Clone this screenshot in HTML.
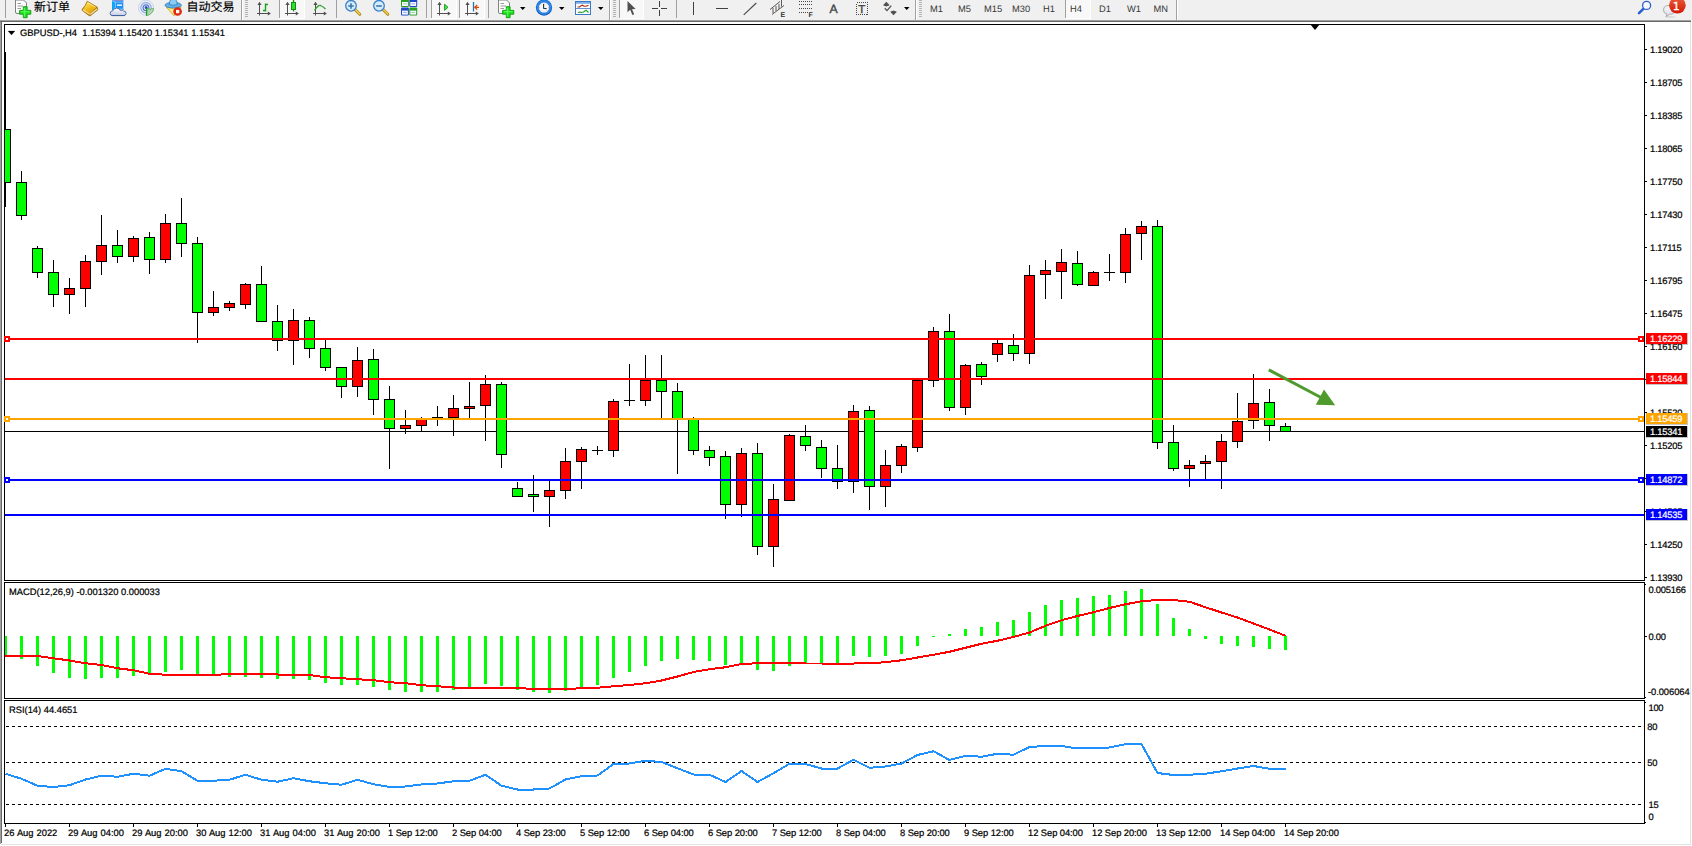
<!DOCTYPE html>
<html><head><meta charset="utf-8"><title>GBPUSD H4</title>
<style>
html,body{margin:0;padding:0;background:#fff;}
body{width:1692px;height:846px;position:relative;overflow:hidden;font-family:"Liberation Sans", sans-serif;}
#tb{position:absolute;left:0;top:0;width:1692px;height:20px;background:#f0f0f0;}
text{text-rendering:geometricPrecision;}
</style></head><body>
<div id="tb"><svg width="1692" height="20" viewBox="0 0 1692 20" shape-rendering="crispEdges" style="position:absolute;left:0;top:0;font-family:'Liberation Sans','Noto Sans CJK SC',sans-serif"><rect x="0" y="0" width="1692" height="20" fill="#f0f0f0"/><rect x="5" y="0" width="1" height="18" fill="#a0a0a0"/><g shape-rendering="auto"><path d="M15.5 -1V12Q15.5 13.5 17 13.5H26.5V3L23.5 0H15.5" fill="#fdfdfd" stroke="#808080" stroke-width="1"/><path d="M17.5 3.5H21M17.5 6H23M17.5 8.5H21" stroke="#9a9a9a" stroke-width="1"/><path d="M23.3 6.7h3.8v3.7h3.7v3.8h-3.7v3.5h-3.8v-3.5h-3.7v-3.8h3.7z" fill="#20e020" stroke="#0c9c0c" stroke-width="0.9"/><path d="M24.4 8v8.5M21 11.7h8.5" stroke="#60ff60" stroke-width="1.2" stroke-opacity="0.8"/></g><text x="34" y="10.5" font-size="12" fill="#000" stroke="#000" stroke-width="0.15">新订单</text><defs><linearGradient id="bk1" x1="0.2" y1="0" x2="0.8" y2="1"><stop offset="0" stop-color="#fce66c"/><stop offset="0.55" stop-color="#eeb818"/><stop offset="1" stop-color="#d89c10"/></linearGradient><linearGradient id="cl1" x1="0" y1="0" x2="0" y2="1"><stop offset="0" stop-color="#ffffff"/><stop offset="1" stop-color="#c4cce2"/></linearGradient></defs><g shape-rendering="auto"><path d="M87.3 1.2L97.2 7.1L97.9 9.8L90.4 15.7Q89.6 16 88.8 15.4L82.3 10.6Q81.8 9.8 82.4 9Q85.2 6.2 87.3 1.2Z" fill="#b07410" stroke="#a06808" stroke-width="0.7"/><path d="M90.6 14.9L97.3 9.6L97 8.2L90.2 13.4Z" fill="#ece4a8"/><path d="M87.6 1.8L96.7 7.2L90 13.6L82.9 9.4Q85.6 6.2 87.6 1.8Z" fill="url(#bk1)"/><path d="M83 9.9L89.8 14.3" stroke="#f8e084" stroke-width="1.3" fill="none"/><path d="M88.2 2.8L95.4 7.1" stroke="#fdf4b4" stroke-width="0.8" fill="none" stroke-opacity="0.8"/></g><g shape-rendering="auto"><path d="M112.1 0.6H123.3V10H112.1Z" fill="#2090f4"/><path d="M112.1 -1H123.3V0.9H112.1Z" fill="#7c84d4"/><path d="M112.1 0.6L115.6 2V10H112.1Z" fill="#0ca4fc"/><path d="M115.4 2V10" stroke="#9cdcff" stroke-width="0.7"/><path d="M112.3 0.8L115.5 2.1H123.2" stroke="#b4e4ff" stroke-width="0.6" fill="none"/><rect x="117" y="4.4" width="5" height="1.5" fill="#eaf6ff"/><path d="M116 8.6H123.3V10H116Z" fill="#6cc4ff"/><path d="M112.6 15.6Q109.9 15.6 110.1 13.1Q110.4 10.9 112.8 10.9Q113.7 8.1 116.7 8.1Q119.4 8.2 120.3 10.4Q122.3 9.4 123.7 11Q126.3 11.2 126.1 13.5Q125.9 15.6 123.5 15.6Z" fill="url(#cl1)" stroke="#5470a8" stroke-width="1"/><path d="M111.4 15.5H124.8" stroke="#3c5c9c" stroke-width="0.8"/></g><g shape-rendering="auto" fill="none"><circle cx="146" cy="7.8" r="7.6" stroke="#c4d4f0" stroke-width="1"/><circle cx="146" cy="7.8" r="5.2" stroke="#86a4e4" stroke-width="1.1"/><circle cx="146" cy="7.8" r="2.9" stroke="#5478d4" stroke-width="1.2"/><path d="M146.5 8V15.4A7.6 7.6 0 0 0 153.6 8.4A7 7 0 0 1 146.5 8" stroke="#68b068" stroke-width="0.9" fill="#a8d4a0" fill-opacity="0.75"/><circle cx="146.1" cy="7.4" r="1.5" fill="#2854c4"/><path d="M146.6 8V15.6" stroke="#18a018" stroke-width="1.3"/></g><g shape-rendering="auto"><path d="M166.2 7L174 15.8L181.2 7Z" fill="#f4dc50" stroke="#d0a820" stroke-width="0.8"/><path d="M168 7.6L174 14.4L176 12Z" fill="#fbf0a0"/><ellipse cx="173.2" cy="5.2" rx="8.2" ry="2.9" fill="#62b0e4" stroke="#2c7cbc" stroke-width="0.8"/><path d="M169.2 4.6Q169.6 -1.5 173.2 -1.5Q176.8 -1.5 177.3 4.6Q173.2 6 169.2 4.6Z" fill="#8cccf4" stroke="#2c7cbc" stroke-width="0.8"/><circle cx="177.6" cy="11.5" r="4.3" fill="#e02810"/><rect x="176" y="9.9" width="3.3" height="3.3" fill="#fff"/></g><text x="186.4" y="10.5" font-size="12" fill="#000" stroke="#000" stroke-width="0.15">自动交易</text><rect x="241" y="0" width="1" height="20" fill="#a0a0a0"/><rect x="242" y="0" width="1" height="20" fill="#fff"/><rect x="245" y="0" width="3" height="1" fill="#b4b4b4"/><rect x="245" y="2" width="3" height="1" fill="#b4b4b4"/><rect x="245" y="4" width="3" height="1" fill="#b4b4b4"/><rect x="245" y="6" width="3" height="1" fill="#b4b4b4"/><rect x="245" y="8" width="3" height="1" fill="#b4b4b4"/><rect x="245" y="10" width="3" height="1" fill="#b4b4b4"/><rect x="245" y="12" width="3" height="1" fill="#b4b4b4"/><rect x="245" y="14" width="3" height="1" fill="#b4b4b4"/><rect x="245" y="16" width="3" height="1" fill="#b4b4b4"/><g shape-rendering="auto"><path d="M259.5 3V15.5M257 13.5H269" fill="none" stroke="#505050" stroke-width="1"/><path d="M257.4 5L259.5 1.8L261.6 5ZM267.8 11.4L270.9 13.5L267.8 15.6Z" fill="#505050"/></g><path d="M265.5 3.5V11.5M265.5 4.5H268M263 10.5H265.5" stroke="#18a018" stroke-width="1.4" fill="none" shape-rendering="auto"/><rect x="279" y="0" width="1" height="18" fill="#a0a0a0"/><rect x="280" y="0" width="24" height="18" fill="#f8f8f8"/><rect x="304" y="0" width="1" height="19" fill="#fff"/><rect x="279" y="18" width="26" height="1" fill="#fff"/><g shape-rendering="auto"><path d="M287.5 3V15.5M285 13.5H297" fill="none" stroke="#505050" stroke-width="1"/><path d="M285.4 5L287.5 1.8L289.6 5ZM295.8 11.4L298.9 13.5L295.8 15.6Z" fill="#505050"/></g><g shape-rendering="auto"><path d="M293.5 0V11.5" stroke="#109010" stroke-width="1.3"/><rect x="291.5" y="2.5" width="4" height="7" fill="#30e030" stroke="#109010" stroke-width="1"/></g><g shape-rendering="auto"><path d="M315.5 3V15.5M313 13.5H325" fill="none" stroke="#505050" stroke-width="1"/><path d="M313.4 5L315.5 1.8L317.6 5ZM323.8 11.4L326.9 13.5L323.8 15.6Z" fill="#505050"/></g><path d="M314.5 10.5Q318 5 320.5 5.5Q323 6.5 325.5 9" stroke="#28a028" stroke-width="1.3" fill="none" shape-rendering="auto"/><rect x="336" y="0" width="1" height="18" fill="#a0a0a0"/><g shape-rendering="auto"><path d="M355 9.5L359.8 14.3" stroke="#b08818" stroke-width="3" stroke-linecap="round"/><path d="M355.3 9.5L359.7 13.9" stroke="#f0d048" stroke-width="1.4" stroke-linecap="round"/><circle cx="351" cy="5.8" r="5.3" fill="#d4ecfc" stroke="#3a80c8" stroke-width="1.3"/><path d="M348.2 6H353.8M351 3.2V8.8" stroke="#3a78b0" stroke-width="1.6"/></g><g shape-rendering="auto"><path d="M383 9.5L387.8 14.3" stroke="#b08818" stroke-width="3" stroke-linecap="round"/><path d="M383.3 9.5L387.7 13.9" stroke="#f0d048" stroke-width="1.4" stroke-linecap="round"/><circle cx="379" cy="5.8" r="5.3" fill="#d4ecfc" stroke="#3a80c8" stroke-width="1.3"/><path d="M376.2 6H381.8" stroke="#3a78b0" stroke-width="1.6"/></g><g shape-rendering="auto"><rect x="401" y="-1" width="7.9" height="8" rx="1" fill="#28a020"/><rect x="402" y="2" width="5.9" height="4" fill="#f4f8ff"/><rect x="403.2" y="3.3" width="3.5" height="1" fill="#50c040" fill-opacity="0.6"/></g><g shape-rendering="auto"><rect x="409.3" y="-1" width="7.9" height="8" rx="1" fill="#2048c8"/><rect x="410.3" y="2" width="5.9" height="4" fill="#f4f8ff"/><rect x="411.5" y="3.3" width="3.5" height="1" fill="#4878e8" fill-opacity="0.6"/></g><g shape-rendering="auto"><rect x="401" y="7.6" width="7.9" height="8" rx="1" fill="#2048c8"/><rect x="402" y="10.6" width="5.9" height="4" fill="#f4f8ff"/><rect x="403.2" y="11.899999999999999" width="3.5" height="1" fill="#4878e8" fill-opacity="0.6"/></g><g shape-rendering="auto"><rect x="409.3" y="7.6" width="7.9" height="8" rx="1" fill="#28a020"/><rect x="410.3" y="10.6" width="5.9" height="4" fill="#f4f8ff"/><rect x="411.5" y="11.899999999999999" width="3.5" height="1" fill="#50c040" fill-opacity="0.6"/></g><rect x="426" y="0" width="1" height="18" fill="#a0a0a0"/><rect x="431" y="0" width="1" height="18" fill="#a0a0a0"/><rect x="432" y="0" width="24" height="18" fill="#f8f8f8"/><rect x="456" y="0" width="1" height="19" fill="#fff"/><rect x="431" y="18" width="26" height="1" fill="#fff"/><g shape-rendering="auto"><path d="M439.5 3V15.5M437 13.5H449" fill="none" stroke="#505050" stroke-width="1"/><path d="M437.4 5L439.5 1.8L441.6 5ZM447.8 11.4L450.9 13.5L447.8 15.6Z" fill="#505050"/></g><path d="M444.6 4.3L448 7.3L444.6 10.3Z" fill="#58e058" stroke="#18a018" stroke-width="1" shape-rendering="auto"/><rect x="459" y="0" width="1" height="18" fill="#a0a0a0"/><rect x="460" y="0" width="24" height="18" fill="#f8f8f8"/><rect x="484" y="0" width="1" height="19" fill="#fff"/><rect x="459" y="18" width="26" height="1" fill="#fff"/><g shape-rendering="auto"><path d="M467.5 3V15.5M465 13.5H477" fill="none" stroke="#505050" stroke-width="1"/><path d="M465.4 5L467.5 1.8L469.6 5ZM475.8 11.4L478.9 13.5L475.8 15.6Z" fill="#505050"/></g><g shape-rendering="auto"><path d="M473.5 2V11.5" stroke="#1878b8" stroke-width="1.3"/><path d="M474.8 7.3H479M477.2 5L474.8 7.3L477.2 9.6" stroke="#e04808" stroke-width="1.3" fill="none"/></g><rect x="488" y="0" width="1" height="18" fill="#a0a0a0"/><g shape-rendering="auto"><path d="M498.5 -1V12Q498.5 13.5 500 13.5H509.5V3L506.5 0H498.5" fill="#fdfdfd" stroke="#808080" stroke-width="1"/><path d="M500.5 3.5H504M500.5 6H506M500.5 8.5H504" stroke="#9a9a9a" stroke-width="1"/><path d="M506.3 6.7h3.8v3.7h3.7v3.8h-3.7v3.5h-3.8v-3.5h-3.7v-3.8h3.7z" fill="#20e020" stroke="#0c9c0c" stroke-width="0.9"/><path d="M507.4 8v8.5M504 11.7h8.5" stroke="#60ff60" stroke-width="1.2" stroke-opacity="0.8"/></g><polygon points="520,7 525.5,7 522.75,10" fill="#000" shape-rendering="auto"/><g shape-rendering="auto"><circle cx="544" cy="7.6" r="8.1" fill="#0c58c0"/><circle cx="544" cy="7.4" r="7.3" fill="#2c8cf0"/><circle cx="544" cy="7.6" r="5.5" fill="#f6f8fa" stroke="#1060c8" stroke-width="0.6"/><path d="M543.6 4V8.2L546.6 8.6" stroke="#303030" stroke-width="1.1" fill="none"/><path d="M544 2.8V3.6M544 11.6V12.4M539.2 7.6H540M548 7.6H548.8M540.6 4.2L541.1 4.7M547.4 4.2L546.9 4.7M540.6 11L541.1 10.5M547.4 11L546.9 10.5" stroke="#8898b0" stroke-width="0.8"/></g><polygon points="559,7 564.5,7 561.75,10" fill="#000" shape-rendering="auto"/><g shape-rendering="auto"><rect x="575.5" y="1.5" width="15" height="13" fill="#fff" stroke="#3a78c8" stroke-width="1"/><rect x="576" y="2" width="14" height="1.8" fill="#7ab0e8"/><path d="M576 8.5H590" stroke="#3a78c8" stroke-width="0.8"/><path d="M577.5 7L579.5 7L581 5.8L582.5 5.2L584 6.2L586 6.2L588.5 5.2" stroke="#a03010" stroke-width="1.1" fill="none"/><path d="M578 12.5L580 12L581.5 12.5L583.5 12L586 10.2L588.5 12.5" stroke="#18a028" stroke-width="1.1" fill="none"/></g><polygon points="598,7 603.5,7 600.75,10" fill="#000" shape-rendering="auto"/><rect x="609" y="0" width="1" height="20" fill="#a0a0a0"/><rect x="610" y="0" width="1" height="20" fill="#fff"/><rect x="613" y="0" width="3" height="1" fill="#b4b4b4"/><rect x="613" y="2" width="3" height="1" fill="#b4b4b4"/><rect x="613" y="4" width="3" height="1" fill="#b4b4b4"/><rect x="613" y="6" width="3" height="1" fill="#b4b4b4"/><rect x="613" y="8" width="3" height="1" fill="#b4b4b4"/><rect x="613" y="10" width="3" height="1" fill="#b4b4b4"/><rect x="613" y="12" width="3" height="1" fill="#b4b4b4"/><rect x="613" y="14" width="3" height="1" fill="#b4b4b4"/><rect x="613" y="16" width="3" height="1" fill="#b4b4b4"/><rect x="619" y="0" width="1" height="18" fill="#a0a0a0"/><rect x="620" y="0" width="23" height="18" fill="#f8f8f8"/><rect x="643" y="0" width="1" height="19" fill="#fff"/><rect x="619" y="18" width="25" height="1" fill="#fff"/><path d="M627.5 1L627.5 12.3L630.2 9.8L632.4 15L634.2 14.2L632 9.2L635.6 9Z" fill="#505050" shape-rendering="auto"/><path d="M652 8.5H658M661 8.5H667M659.5 1V7M659.5 10V16" stroke="#404040" stroke-width="1" fill="none"/><rect x="676" y="0" width="1" height="18" fill="#a0a0a0"/><rect x="693" y="2" width="1" height="13" fill="#404040"/><rect x="716" y="8" width="12" height="1" fill="#404040"/><path d="M743.7 14.8L756.3 3" stroke="#484848" stroke-width="1.1" shape-rendering="auto"/><g shape-rendering="auto" stroke="#484848" stroke-width="0.9" fill="none"><path d="M770 9.5L780 1.5M772 14.5L784 5.5M773 8V13M776 6V11M779 4V9M781.5 0V6.5"/></g><text x="780.6" y="16.8" font-size="7" font-weight="bold" fill="#303030">E</text><path d="M799 1.5H812" stroke="#484848" stroke-width="1" stroke-dasharray="1 1"/><path d="M799 4.5H812" stroke="#484848" stroke-width="1" stroke-dasharray="1 1"/><path d="M799 8.5H812" stroke="#484848" stroke-width="1" stroke-dasharray="1 1"/><path d="M799 12.5H808" stroke="#484848" stroke-width="1" stroke-dasharray="1 1"/><text x="808.6" y="16.8" font-size="7" font-weight="bold" fill="#303030">F</text><text x="829.4" y="13" font-size="12.2" fill="#484848" stroke="#484848" stroke-width="0.4">A</text><rect x="856.5" y="2.5" width="11" height="12" fill="none" stroke="#484848" stroke-width="1" stroke-dasharray="1 1"/><text x="858.2" y="13" font-size="11.5" fill="#484848" stroke="#484848" stroke-width="0.4">T</text><g shape-rendering="auto" fill="#505050"><path d="M883 5.2L886.3 1.8L889.7 5.2L886.3 6.6Z"/><path d="M890.2 11.8L893.5 15.2L896.9 11.8L893.5 10.4Z"/><path d="M884.8 8.2L887 10.6L891.3 5.6" stroke="#505050" stroke-width="1.3" fill="none"/></g><polygon points="904,7 909.5,7 906.75,10" fill="#000" shape-rendering="auto"/><rect x="915" y="0" width="1" height="20" fill="#a0a0a0"/><rect x="916" y="0" width="1" height="20" fill="#fff"/><rect x="919" y="0" width="3" height="1" fill="#b4b4b4"/><rect x="919" y="2" width="3" height="1" fill="#b4b4b4"/><rect x="919" y="4" width="3" height="1" fill="#b4b4b4"/><rect x="919" y="6" width="3" height="1" fill="#b4b4b4"/><rect x="919" y="8" width="3" height="1" fill="#b4b4b4"/><rect x="919" y="10" width="3" height="1" fill="#b4b4b4"/><rect x="919" y="12" width="3" height="1" fill="#b4b4b4"/><rect x="919" y="14" width="3" height="1" fill="#b4b4b4"/><rect x="919" y="16" width="3" height="1" fill="#b4b4b4"/><rect x="1065" y="0" width="1" height="18" fill="#a0a0a0"/><rect x="1066" y="0" width="24" height="18" fill="#f8f8f8"/><rect x="1090" y="0" width="1" height="19" fill="#fff"/><rect x="1065" y="18" width="26" height="1" fill="#fff"/><text x="930" y="12" font-size="9.33" fill="#383838">M1</text><text x="958" y="12" font-size="9.33" fill="#383838">M5</text><text x="984" y="12" font-size="9.33" fill="#383838">M15</text><text x="1012" y="12" font-size="9.33" fill="#383838">M30</text><text x="1043" y="12" font-size="9.33" fill="#383838">H1</text><text x="1070" y="12" font-size="9.33" fill="#383838">H4</text><text x="1099" y="12" font-size="9.33" fill="#383838">D1</text><text x="1127" y="12" font-size="9.33" fill="#383838">W1</text><text x="1153.5" y="12" font-size="9.33" fill="#383838">MN</text><rect x="1176" y="0" width="1" height="20" fill="#a0a0a0"/><rect x="1177" y="0" width="1" height="20" fill="#fff"/><g shape-rendering="auto"><path d="M1643.6 8.6L1639 13.2" stroke="#2860d0" stroke-width="2.6" stroke-linecap="round"/><circle cx="1646.6" cy="5.4" r="4" fill="#f8f8ff" stroke="#2860d0" stroke-width="1.3"/></g><defs><linearGradient id="bg1" x1="0" y1="0" x2="0" y2="1"><stop offset="0" stop-color="#ea6040"/><stop offset="0.45" stop-color="#e03c20"/><stop offset="1" stop-color="#d41804"/></linearGradient><linearGradient id="bb1" x1="0" y1="0" x2="0" y2="1"><stop offset="0" stop-color="#fafafa"/><stop offset="1" stop-color="#d8d8ea"/></linearGradient></defs><g shape-rendering="auto"><ellipse cx="1670" cy="16.8" rx="5.5" ry="0.9" fill="#c8c8c8" fill-opacity="0.6"/><path d="M1663.5 10Q1663.5 5.5 1669 5.5Q1675 5.5 1675 10Q1675 14.2 1669.5 14.3L1666.3 16.6L1666.8 14Q1663.5 13.3 1663.5 10Z" fill="url(#bb1)" stroke="#a4a4a4" stroke-width="0.9"/><circle cx="1677.4" cy="5.3" r="8.3" fill="url(#bg1)"/></g><text x="1672.8" y="9.6" font-size="11" fill="#fff" stroke="#fff" stroke-width="0.35" font-family="'DejaVu Sans',sans-serif">1</text></svg></div>
<svg width="1692" height="846" viewBox="0 0 1692 846" style="position:absolute;left:0;top:0"><g shape-rendering="crispEdges">
<rect x="0" y="20" width="1691" height="1" fill="#a0a0a0"/>
<rect x="0" y="21" width="1691" height="1" fill="#696969"/>
<rect x="0" y="22" width="1" height="822" fill="#a0a0a0"/>
<rect x="1" y="22" width="1" height="821" fill="#696969"/>
<rect x="1690" y="22" width="1" height="823" fill="#e3e3e3"/>
<rect x="1" y="844" width="1690" height="1" fill="#e3e3e3"/>
<rect x="4" y="24" width="1641" height="1" fill="#000"/>
<rect x="4" y="580" width="1641" height="1" fill="#000"/>
<rect x="4" y="582" width="1641" height="1" fill="#000"/>
<rect x="4" y="698" width="1641" height="1" fill="#000"/>
<rect x="4" y="700" width="1641" height="1" fill="#000"/>
<rect x="4" y="823" width="1641" height="1" fill="#000"/>
<rect x="4" y="24" width="1" height="800" fill="#000"/>
<rect x="1644" y="24" width="1" height="800" fill="#000"/>
<rect x="4" y="581" width="1641" height="1" fill="#fff"/>
<rect x="4" y="699" width="1641" height="1" fill="#fff"/>
<rect x="2" y="581" width="3" height="1" fill="#fff"/>
<rect x="2" y="699" width="3" height="1" fill="#fff"/>
<polygon points="1310,24 1320,24 1315,30" fill="#000" shape-rendering="auto"/>
</g>
<g shape-rendering="crispEdges">
<rect x="5" y="431" width="1639" height="1" fill="#000"/>
<rect x="5" y="52" width="1" height="155" fill="#000"/>
<rect x="5" y="129" width="6" height="54" fill="#000"/>
<rect x="5" y="130" width="5" height="52" fill="#00ff00"/>
<rect x="21" y="171" width="1" height="49" fill="#000"/>
<rect x="16" y="182" width="11" height="34" fill="#000"/>
<rect x="17" y="183" width="9" height="32" fill="#00ff00"/>
<rect x="37" y="246" width="1" height="32" fill="#000"/>
<rect x="32" y="248" width="11" height="25" fill="#000"/>
<rect x="33" y="249" width="9" height="23" fill="#00ff00"/>
<rect x="53" y="260" width="1" height="47" fill="#000"/>
<rect x="48" y="272" width="11" height="23" fill="#000"/>
<rect x="49" y="273" width="9" height="21" fill="#00ff00"/>
<rect x="69" y="278" width="1" height="36" fill="#000"/>
<rect x="64" y="288" width="11" height="7" fill="#000"/>
<rect x="65" y="289" width="9" height="5" fill="#ff0000"/>
<rect x="85" y="255" width="1" height="52" fill="#000"/>
<rect x="80" y="261" width="11" height="28" fill="#000"/>
<rect x="81" y="262" width="9" height="26" fill="#ff0000"/>
<rect x="101" y="215" width="1" height="60" fill="#000"/>
<rect x="96" y="245" width="11" height="17" fill="#000"/>
<rect x="97" y="246" width="9" height="15" fill="#ff0000"/>
<rect x="117" y="230" width="1" height="33" fill="#000"/>
<rect x="112" y="245" width="11" height="12" fill="#000"/>
<rect x="113" y="246" width="9" height="10" fill="#00ff00"/>
<rect x="133" y="236" width="1" height="26" fill="#000"/>
<rect x="128" y="238" width="11" height="19" fill="#000"/>
<rect x="129" y="239" width="9" height="17" fill="#ff0000"/>
<rect x="149" y="232" width="1" height="42" fill="#000"/>
<rect x="144" y="237" width="11" height="23" fill="#000"/>
<rect x="145" y="238" width="9" height="21" fill="#00ff00"/>
<rect x="165" y="214" width="1" height="49" fill="#000"/>
<rect x="160" y="223" width="11" height="37" fill="#000"/>
<rect x="161" y="224" width="9" height="35" fill="#ff0000"/>
<rect x="181" y="198" width="1" height="59" fill="#000"/>
<rect x="176" y="223" width="11" height="21" fill="#000"/>
<rect x="177" y="224" width="9" height="19" fill="#00ff00"/>
<rect x="197" y="237" width="1" height="106" fill="#000"/>
<rect x="192" y="243" width="11" height="70" fill="#000"/>
<rect x="193" y="244" width="9" height="68" fill="#00ff00"/>
<rect x="213" y="291" width="1" height="25" fill="#000"/>
<rect x="208" y="307" width="11" height="6" fill="#000"/>
<rect x="209" y="308" width="9" height="4" fill="#ff0000"/>
<rect x="229" y="301" width="1" height="10" fill="#000"/>
<rect x="224" y="303" width="11" height="5" fill="#000"/>
<rect x="225" y="304" width="9" height="3" fill="#ff0000"/>
<rect x="245" y="283" width="1" height="26" fill="#000"/>
<rect x="240" y="284" width="11" height="21" fill="#000"/>
<rect x="241" y="285" width="9" height="19" fill="#ff0000"/>
<rect x="261" y="266" width="1" height="56" fill="#000"/>
<rect x="256" y="284" width="11" height="38" fill="#000"/>
<rect x="257" y="285" width="9" height="36" fill="#00ff00"/>
<rect x="277" y="305" width="1" height="46" fill="#000"/>
<rect x="272" y="321" width="11" height="20" fill="#000"/>
<rect x="273" y="322" width="9" height="18" fill="#00ff00"/>
<rect x="293" y="309" width="1" height="56" fill="#000"/>
<rect x="288" y="320" width="11" height="21" fill="#000"/>
<rect x="289" y="321" width="9" height="19" fill="#ff0000"/>
<rect x="309" y="317" width="1" height="41" fill="#000"/>
<rect x="304" y="320" width="11" height="29" fill="#000"/>
<rect x="305" y="321" width="9" height="27" fill="#00ff00"/>
<rect x="325" y="340" width="1" height="31" fill="#000"/>
<rect x="320" y="348" width="11" height="20" fill="#000"/>
<rect x="321" y="349" width="9" height="18" fill="#00ff00"/>
<rect x="341" y="367" width="1" height="31" fill="#000"/>
<rect x="336" y="367" width="11" height="20" fill="#000"/>
<rect x="337" y="368" width="9" height="18" fill="#00ff00"/>
<rect x="357" y="347" width="1" height="50" fill="#000"/>
<rect x="352" y="360" width="11" height="27" fill="#000"/>
<rect x="353" y="361" width="9" height="25" fill="#ff0000"/>
<rect x="373" y="349" width="1" height="66" fill="#000"/>
<rect x="368" y="359" width="11" height="41" fill="#000"/>
<rect x="369" y="360" width="9" height="39" fill="#00ff00"/>
<rect x="389" y="386" width="1" height="83" fill="#000"/>
<rect x="384" y="399" width="11" height="30" fill="#000"/>
<rect x="385" y="400" width="9" height="28" fill="#00ff00"/>
<rect x="405" y="410" width="1" height="24" fill="#000"/>
<rect x="400" y="425" width="11" height="4" fill="#000"/>
<rect x="401" y="426" width="9" height="2" fill="#ff0000"/>
<rect x="421" y="417" width="1" height="14" fill="#000"/>
<rect x="416" y="419" width="11" height="7" fill="#000"/>
<rect x="417" y="420" width="9" height="5" fill="#ff0000"/>
<rect x="437" y="406" width="1" height="20" fill="#000"/>
<rect x="432" y="417" width="11" height="1" fill="#000"/>
<rect x="453" y="395" width="1" height="41" fill="#000"/>
<rect x="448" y="408" width="11" height="10" fill="#000"/>
<rect x="449" y="409" width="9" height="8" fill="#ff0000"/>
<rect x="469" y="382" width="1" height="36" fill="#000"/>
<rect x="464" y="406" width="11" height="3" fill="#000"/>
<rect x="465" y="407" width="9" height="1" fill="#ff0000"/>
<rect x="485" y="375" width="1" height="66" fill="#000"/>
<rect x="480" y="384" width="11" height="22" fill="#000"/>
<rect x="481" y="385" width="9" height="20" fill="#ff0000"/>
<rect x="501" y="382" width="1" height="86" fill="#000"/>
<rect x="496" y="384" width="11" height="71" fill="#000"/>
<rect x="497" y="385" width="9" height="69" fill="#00ff00"/>
<rect x="517" y="482" width="1" height="15" fill="#000"/>
<rect x="512" y="488" width="11" height="9" fill="#000"/>
<rect x="513" y="489" width="9" height="7" fill="#00ff00"/>
<rect x="533" y="475" width="1" height="37" fill="#000"/>
<rect x="528" y="494" width="11" height="3" fill="#000"/>
<rect x="529" y="495" width="9" height="1" fill="#00ff00"/>
<rect x="549" y="481" width="1" height="46" fill="#000"/>
<rect x="544" y="490" width="11" height="7" fill="#000"/>
<rect x="545" y="491" width="9" height="5" fill="#ff0000"/>
<rect x="565" y="448" width="1" height="51" fill="#000"/>
<rect x="560" y="461" width="11" height="30" fill="#000"/>
<rect x="561" y="462" width="9" height="28" fill="#ff0000"/>
<rect x="581" y="447" width="1" height="42" fill="#000"/>
<rect x="576" y="449" width="11" height="13" fill="#000"/>
<rect x="577" y="450" width="9" height="11" fill="#ff0000"/>
<rect x="597" y="446" width="1" height="9" fill="#000"/>
<rect x="592" y="450" width="11" height="1" fill="#000"/>
<rect x="613" y="399" width="1" height="58" fill="#000"/>
<rect x="608" y="401" width="11" height="50" fill="#000"/>
<rect x="609" y="402" width="9" height="48" fill="#ff0000"/>
<rect x="629" y="364" width="1" height="42" fill="#000"/>
<rect x="624" y="400" width="11" height="1" fill="#000"/>
<rect x="645" y="355" width="1" height="51" fill="#000"/>
<rect x="640" y="380" width="11" height="21" fill="#000"/>
<rect x="641" y="381" width="9" height="19" fill="#ff0000"/>
<rect x="661" y="355" width="1" height="64" fill="#000"/>
<rect x="656" y="380" width="11" height="12" fill="#000"/>
<rect x="657" y="381" width="9" height="10" fill="#00ff00"/>
<rect x="677" y="383" width="1" height="91" fill="#000"/>
<rect x="672" y="391" width="11" height="29" fill="#000"/>
<rect x="673" y="392" width="9" height="27" fill="#00ff00"/>
<rect x="693" y="417" width="1" height="38" fill="#000"/>
<rect x="688" y="419" width="11" height="32" fill="#000"/>
<rect x="689" y="420" width="9" height="30" fill="#00ff00"/>
<rect x="709" y="446" width="1" height="20" fill="#000"/>
<rect x="704" y="450" width="11" height="8" fill="#000"/>
<rect x="705" y="451" width="9" height="6" fill="#00ff00"/>
<rect x="725" y="451" width="1" height="68" fill="#000"/>
<rect x="720" y="456" width="11" height="49" fill="#000"/>
<rect x="721" y="457" width="9" height="47" fill="#00ff00"/>
<rect x="741" y="448" width="1" height="69" fill="#000"/>
<rect x="736" y="453" width="11" height="52" fill="#000"/>
<rect x="737" y="454" width="9" height="50" fill="#ff0000"/>
<rect x="757" y="443" width="1" height="112" fill="#000"/>
<rect x="752" y="453" width="11" height="94" fill="#000"/>
<rect x="753" y="454" width="9" height="92" fill="#00ff00"/>
<rect x="773" y="484" width="1" height="83" fill="#000"/>
<rect x="768" y="499" width="11" height="48" fill="#000"/>
<rect x="769" y="500" width="9" height="46" fill="#ff0000"/>
<rect x="789" y="434" width="1" height="67" fill="#000"/>
<rect x="784" y="435" width="11" height="66" fill="#000"/>
<rect x="785" y="436" width="9" height="64" fill="#ff0000"/>
<rect x="805" y="425" width="1" height="26" fill="#000"/>
<rect x="800" y="436" width="11" height="10" fill="#000"/>
<rect x="801" y="437" width="9" height="8" fill="#00ff00"/>
<rect x="821" y="440" width="1" height="38" fill="#000"/>
<rect x="816" y="447" width="11" height="22" fill="#000"/>
<rect x="817" y="448" width="9" height="20" fill="#00ff00"/>
<rect x="837" y="445" width="1" height="44" fill="#000"/>
<rect x="832" y="468" width="11" height="14" fill="#000"/>
<rect x="833" y="469" width="9" height="12" fill="#00ff00"/>
<rect x="853" y="405" width="1" height="88" fill="#000"/>
<rect x="848" y="411" width="11" height="71" fill="#000"/>
<rect x="849" y="412" width="9" height="69" fill="#ff0000"/>
<rect x="869" y="406" width="1" height="104" fill="#000"/>
<rect x="864" y="410" width="11" height="77" fill="#000"/>
<rect x="865" y="411" width="9" height="75" fill="#00ff00"/>
<rect x="885" y="450" width="1" height="57" fill="#000"/>
<rect x="880" y="465" width="11" height="22" fill="#000"/>
<rect x="881" y="466" width="9" height="20" fill="#ff0000"/>
<rect x="901" y="444" width="1" height="29" fill="#000"/>
<rect x="896" y="446" width="11" height="20" fill="#000"/>
<rect x="897" y="447" width="9" height="18" fill="#ff0000"/>
<rect x="917" y="380" width="1" height="72" fill="#000"/>
<rect x="912" y="380" width="11" height="68" fill="#000"/>
<rect x="913" y="381" width="9" height="66" fill="#ff0000"/>
<rect x="933" y="327" width="1" height="60" fill="#000"/>
<rect x="928" y="331" width="11" height="50" fill="#000"/>
<rect x="929" y="332" width="9" height="48" fill="#ff0000"/>
<rect x="949" y="314" width="1" height="97" fill="#000"/>
<rect x="944" y="331" width="11" height="77" fill="#000"/>
<rect x="945" y="332" width="9" height="75" fill="#00ff00"/>
<rect x="965" y="364" width="1" height="51" fill="#000"/>
<rect x="960" y="365" width="11" height="43" fill="#000"/>
<rect x="961" y="366" width="9" height="41" fill="#ff0000"/>
<rect x="981" y="362" width="1" height="23" fill="#000"/>
<rect x="976" y="364" width="11" height="13" fill="#000"/>
<rect x="977" y="365" width="9" height="11" fill="#00ff00"/>
<rect x="997" y="340" width="1" height="22" fill="#000"/>
<rect x="992" y="343" width="11" height="12" fill="#000"/>
<rect x="993" y="344" width="9" height="10" fill="#ff0000"/>
<rect x="1013" y="334" width="1" height="27" fill="#000"/>
<rect x="1008" y="345" width="11" height="9" fill="#000"/>
<rect x="1009" y="346" width="9" height="7" fill="#00ff00"/>
<rect x="1029" y="265" width="1" height="99" fill="#000"/>
<rect x="1024" y="275" width="11" height="79" fill="#000"/>
<rect x="1025" y="276" width="9" height="77" fill="#ff0000"/>
<rect x="1045" y="260" width="1" height="39" fill="#000"/>
<rect x="1040" y="270" width="11" height="5" fill="#000"/>
<rect x="1041" y="271" width="9" height="3" fill="#ff0000"/>
<rect x="1061" y="249" width="1" height="50" fill="#000"/>
<rect x="1056" y="262" width="11" height="10" fill="#000"/>
<rect x="1057" y="263" width="9" height="8" fill="#ff0000"/>
<rect x="1077" y="251" width="1" height="35" fill="#000"/>
<rect x="1072" y="263" width="11" height="22" fill="#000"/>
<rect x="1073" y="264" width="9" height="20" fill="#00ff00"/>
<rect x="1093" y="271" width="1" height="15" fill="#000"/>
<rect x="1088" y="272" width="11" height="14" fill="#000"/>
<rect x="1089" y="273" width="9" height="12" fill="#ff0000"/>
<rect x="1109" y="254" width="1" height="27" fill="#000"/>
<rect x="1104" y="272" width="11" height="1" fill="#000"/>
<rect x="1125" y="228" width="1" height="55" fill="#000"/>
<rect x="1120" y="234" width="11" height="39" fill="#000"/>
<rect x="1121" y="235" width="9" height="37" fill="#ff0000"/>
<rect x="1141" y="221" width="1" height="39" fill="#000"/>
<rect x="1136" y="226" width="11" height="8" fill="#000"/>
<rect x="1137" y="227" width="9" height="6" fill="#ff0000"/>
<rect x="1157" y="220" width="1" height="229" fill="#000"/>
<rect x="1152" y="226" width="11" height="217" fill="#000"/>
<rect x="1153" y="227" width="9" height="215" fill="#00ff00"/>
<rect x="1173" y="425" width="1" height="46" fill="#000"/>
<rect x="1168" y="442" width="11" height="27" fill="#000"/>
<rect x="1169" y="443" width="9" height="25" fill="#00ff00"/>
<rect x="1189" y="460" width="1" height="27" fill="#000"/>
<rect x="1184" y="465" width="11" height="4" fill="#000"/>
<rect x="1185" y="466" width="9" height="2" fill="#ff0000"/>
<rect x="1205" y="455" width="1" height="25" fill="#000"/>
<rect x="1200" y="461" width="11" height="3" fill="#000"/>
<rect x="1201" y="462" width="9" height="1" fill="#ff0000"/>
<rect x="1221" y="434" width="1" height="55" fill="#000"/>
<rect x="1216" y="441" width="11" height="21" fill="#000"/>
<rect x="1217" y="442" width="9" height="19" fill="#ff0000"/>
<rect x="1237" y="393" width="1" height="55" fill="#000"/>
<rect x="1232" y="421" width="11" height="21" fill="#000"/>
<rect x="1233" y="422" width="9" height="19" fill="#ff0000"/>
<rect x="1253" y="374" width="1" height="55" fill="#000"/>
<rect x="1248" y="403" width="11" height="18" fill="#000"/>
<rect x="1249" y="404" width="9" height="16" fill="#ff0000"/>
<rect x="1269" y="389" width="1" height="52" fill="#000"/>
<rect x="1264" y="402" width="11" height="24" fill="#000"/>
<rect x="1265" y="403" width="9" height="22" fill="#00ff00"/>
<rect x="1285" y="423" width="1" height="9" fill="#000"/>
<rect x="1280" y="426" width="11" height="6" fill="#000"/>
<rect x="1281" y="427" width="9" height="4" fill="#00ff00"/>
</g>
<g shape-rendering="crispEdges">
<rect x="5" y="338" width="1639" height="2" fill="#ff0000"/>
<rect x="4" y="336" width="6" height="6" fill="#ff0000"/>
<rect x="6" y="338" width="2" height="2" fill="#fff"/>
<rect x="1638" y="336" width="6" height="6" fill="#ff0000"/>
<rect x="1640" y="338" width="2" height="2" fill="#fff"/>
<rect x="5" y="378" width="1639" height="2" fill="#ff0000"/>
<rect x="5" y="418" width="1639" height="2" fill="#ffa500"/>
<rect x="4" y="416" width="6" height="6" fill="#ffa500"/>
<rect x="6" y="418" width="2" height="2" fill="#fff"/>
<rect x="1638" y="416" width="6" height="6" fill="#ffa500"/>
<rect x="1640" y="418" width="2" height="2" fill="#fff"/>
<rect x="5" y="479" width="1639" height="2" fill="#0000ff"/>
<rect x="4" y="477" width="6" height="6" fill="#0000ff"/>
<rect x="6" y="479" width="2" height="2" fill="#fff"/>
<rect x="1638" y="477" width="6" height="6" fill="#0000ff"/>
<rect x="1640" y="479" width="2" height="2" fill="#fff"/>
<rect x="5" y="514" width="1639" height="2" fill="#0000ff"/>
</g>
<line x1="1268.8" y1="369.8" x2="1321" y2="397.5" stroke="#4e9a2d" stroke-width="3"/>
<polygon points="1324,389.6 1335.2,405.3 1315.8,404.7" fill="#4e9a2d"/>
<g shape-rendering="crispEdges">
<rect x="5" y="636" width="2" height="19" fill="#00ff00"/>
<rect x="20" y="636" width="3" height="23" fill="#00ff00"/>
<rect x="36" y="636" width="3" height="30" fill="#00ff00"/>
<rect x="52" y="636" width="3" height="37" fill="#00ff00"/>
<rect x="68" y="636" width="3" height="42" fill="#00ff00"/>
<rect x="84" y="636" width="3" height="43" fill="#00ff00"/>
<rect x="100" y="636" width="3" height="42" fill="#00ff00"/>
<rect x="116" y="636" width="3" height="42" fill="#00ff00"/>
<rect x="132" y="636" width="3" height="40" fill="#00ff00"/>
<rect x="148" y="636" width="3" height="38" fill="#00ff00"/>
<rect x="164" y="636" width="3" height="36" fill="#00ff00"/>
<rect x="180" y="636" width="3" height="34" fill="#00ff00"/>
<rect x="196" y="636" width="3" height="39" fill="#00ff00"/>
<rect x="212" y="636" width="3" height="40" fill="#00ff00"/>
<rect x="228" y="636" width="3" height="41" fill="#00ff00"/>
<rect x="244" y="636" width="3" height="41" fill="#00ff00"/>
<rect x="260" y="636" width="3" height="42" fill="#00ff00"/>
<rect x="276" y="636" width="3" height="43" fill="#00ff00"/>
<rect x="292" y="636" width="3" height="43" fill="#00ff00"/>
<rect x="308" y="636" width="3" height="44" fill="#00ff00"/>
<rect x="324" y="636" width="3" height="47" fill="#00ff00"/>
<rect x="340" y="636" width="3" height="49" fill="#00ff00"/>
<rect x="356" y="636" width="3" height="49" fill="#00ff00"/>
<rect x="372" y="636" width="3" height="51" fill="#00ff00"/>
<rect x="388" y="636" width="3" height="54" fill="#00ff00"/>
<rect x="404" y="636" width="3" height="56" fill="#00ff00"/>
<rect x="420" y="636" width="3" height="56" fill="#00ff00"/>
<rect x="436" y="636" width="3" height="56" fill="#00ff00"/>
<rect x="452" y="636" width="3" height="54" fill="#00ff00"/>
<rect x="468" y="636" width="3" height="52" fill="#00ff00"/>
<rect x="484" y="636" width="3" height="48" fill="#00ff00"/>
<rect x="500" y="636" width="3" height="50" fill="#00ff00"/>
<rect x="516" y="636" width="3" height="54" fill="#00ff00"/>
<rect x="532" y="636" width="3" height="56" fill="#00ff00"/>
<rect x="548" y="636" width="3" height="57" fill="#00ff00"/>
<rect x="564" y="636" width="3" height="55" fill="#00ff00"/>
<rect x="580" y="636" width="3" height="52" fill="#00ff00"/>
<rect x="596" y="636" width="3" height="49" fill="#00ff00"/>
<rect x="612" y="636" width="3" height="42" fill="#00ff00"/>
<rect x="628" y="636" width="3" height="36" fill="#00ff00"/>
<rect x="644" y="636" width="3" height="30" fill="#00ff00"/>
<rect x="660" y="636" width="3" height="25" fill="#00ff00"/>
<rect x="676" y="636" width="3" height="23" fill="#00ff00"/>
<rect x="692" y="636" width="3" height="24" fill="#00ff00"/>
<rect x="708" y="636" width="3" height="25" fill="#00ff00"/>
<rect x="724" y="636" width="3" height="29" fill="#00ff00"/>
<rect x="740" y="636" width="3" height="29" fill="#00ff00"/>
<rect x="756" y="636" width="3" height="34" fill="#00ff00"/>
<rect x="772" y="636" width="3" height="35" fill="#00ff00"/>
<rect x="788" y="636" width="3" height="30" fill="#00ff00"/>
<rect x="804" y="636" width="3" height="28" fill="#00ff00"/>
<rect x="820" y="636" width="3" height="27" fill="#00ff00"/>
<rect x="836" y="636" width="3" height="27" fill="#00ff00"/>
<rect x="852" y="636" width="3" height="20" fill="#00ff00"/>
<rect x="868" y="636" width="3" height="21" fill="#00ff00"/>
<rect x="884" y="636" width="3" height="20" fill="#00ff00"/>
<rect x="900" y="636" width="3" height="18" fill="#00ff00"/>
<rect x="916" y="636" width="3" height="10" fill="#00ff00"/>
<rect x="932" y="636" width="3" height="1" fill="#00ff00"/>
<rect x="948" y="634" width="3" height="2" fill="#00ff00"/>
<rect x="964" y="629" width="3" height="7" fill="#00ff00"/>
<rect x="980" y="627" width="3" height="9" fill="#00ff00"/>
<rect x="996" y="622" width="3" height="14" fill="#00ff00"/>
<rect x="1012" y="620" width="3" height="16" fill="#00ff00"/>
<rect x="1028" y="612" width="3" height="24" fill="#00ff00"/>
<rect x="1044" y="605" width="3" height="31" fill="#00ff00"/>
<rect x="1060" y="600" width="3" height="36" fill="#00ff00"/>
<rect x="1076" y="598" width="3" height="38" fill="#00ff00"/>
<rect x="1092" y="596" width="3" height="40" fill="#00ff00"/>
<rect x="1108" y="595" width="3" height="41" fill="#00ff00"/>
<rect x="1124" y="591" width="3" height="45" fill="#00ff00"/>
<rect x="1140" y="589" width="3" height="47" fill="#00ff00"/>
<rect x="1156" y="604" width="3" height="32" fill="#00ff00"/>
<rect x="1172" y="618" width="3" height="18" fill="#00ff00"/>
<rect x="1188" y="629" width="3" height="7" fill="#00ff00"/>
<rect x="1204" y="636" width="3" height="3" fill="#00ff00"/>
<rect x="1220" y="636" width="3" height="8" fill="#00ff00"/>
<rect x="1236" y="636" width="3" height="10" fill="#00ff00"/>
<rect x="1252" y="636" width="3" height="11" fill="#00ff00"/>
<rect x="1268" y="636" width="3" height="13" fill="#00ff00"/>
<rect x="1284" y="636" width="3" height="14" fill="#00ff00"/>
<polyline points="5.5,656.5 21.5,655.75 37.5,656 53.5,658.25 69.5,660.5 85.5,663.25 101.5,665 117.5,668.25 133.5,670.25 149.5,673.75 165.5,674.75 181.5,674.75 197.5,674.75 213.5,674.75 229.5,674.25 245.5,674.25 261.5,674.25 277.5,674.5 293.5,675 309.5,675 325.5,677.25 341.5,678.25 357.5,679.25 373.5,680.25 389.5,682.25 405.5,683.25 421.5,685.25 437.5,686.25 453.5,687.5 469.5,688 485.5,688 501.5,688 517.5,688.25 533.5,688.75 549.5,689 565.5,689 581.5,688.25 597.5,687.75 613.5,686.25 629.5,685 645.5,683.25 661.5,680.5 677.5,676.5 693.5,672 709.5,669.25 725.5,667.25 741.5,664 757.5,663.25 773.5,662.75 789.5,663.25 805.5,663.5 821.5,663.5 837.5,663.5 853.5,663.5 869.5,663.25 885.5,662.25 901.5,660.25 917.5,657.5 933.5,654.75 949.5,651.75 965.5,647.75 981.5,643.75 997.5,640.75 1013.5,637 1029.5,632.5 1045.5,625.75 1061.5,620.25 1077.5,616 1093.5,612.25 1109.5,608 1125.5,604.25 1141.5,601.25 1157.5,600 1173.5,600 1189.5,601.75 1205.5,607.25 1221.5,612.5 1237.5,617.5 1253.5,623.5 1269.5,629.5 1285.5,635.75" fill="none" stroke="#ff0000" stroke-width="2"/>
<line x1="6" y1="726.5" x2="1644" y2="726.5" stroke="#000" stroke-width="1" stroke-dasharray="3 3"/>
<line x1="6" y1="762.5" x2="1644" y2="762.5" stroke="#000" stroke-width="1" stroke-dasharray="3 3"/>
<line x1="6" y1="804.5" x2="1644" y2="804.5" stroke="#000" stroke-width="1" stroke-dasharray="3 3"/>
<polyline points="5.5,773.75 21.5,778.75 37.5,785.75 53.5,787 69.5,785.25 85.5,779.5 101.5,775.75 117.5,776.75 133.5,773.75 149.5,775.75 165.5,768.75 181.5,771.25 197.5,780.75 213.5,780.75 229.5,779.75 245.5,774.75 261.5,779.75 277.5,781.75 293.5,778.25 309.5,781.25 325.5,783.25 341.5,784.75 357.5,779.75 373.5,784.25 389.5,787 405.5,786.5 421.5,784.5 437.5,783.5 453.5,781.25 469.5,780.75 485.5,774.75 501.5,785.75 517.5,789.5 533.5,789.5 549.5,788.5 565.5,779.5 581.5,776.25 597.5,775.5 613.5,764 629.5,763.5 645.5,760.75 661.5,762 677.5,768.25 693.5,774.5 709.5,774.75 725.5,782 741.5,771 757.5,782 773.5,773.25 789.5,763.75 805.5,764 821.5,768.5 837.5,768.5 853.5,759.75 869.5,767.75 885.5,766.5 901.5,763.5 917.5,755 933.5,751.25 949.5,760 965.5,755.75 981.5,756.75 997.5,753.75 1013.5,754.75 1029.5,747 1045.5,746 1061.5,746 1077.5,748.5 1093.5,748 1109.5,747.5 1125.5,744.25 1141.5,744 1157.5,773 1173.5,775 1189.5,774.75 1205.5,773.75 1221.5,771.25 1237.5,768.5 1253.5,766 1269.5,768.75 1285.5,768.75" fill="none" stroke="#1e90ff" stroke-width="2"/>
</g>
<g shape-rendering="crispEdges">
<rect x="1645" y="49" width="2" height="1" fill="#000"/>
<rect x="1645" y="82" width="2" height="1" fill="#000"/>
<rect x="1645" y="115" width="2" height="1" fill="#000"/>
<rect x="1645" y="148" width="2" height="1" fill="#000"/>
<rect x="1645" y="181" width="2" height="1" fill="#000"/>
<rect x="1645" y="214" width="2" height="1" fill="#000"/>
<rect x="1645" y="247" width="2" height="1" fill="#000"/>
<rect x="1645" y="280" width="2" height="1" fill="#000"/>
<rect x="1645" y="313" width="2" height="1" fill="#000"/>
<rect x="1645" y="346" width="2" height="1" fill="#000"/>
<rect x="1645" y="379" width="2" height="1" fill="#000"/>
<rect x="1645" y="412" width="2" height="1" fill="#000"/>
<rect x="1645" y="445" width="2" height="1" fill="#000"/>
<rect x="1645" y="478" width="2" height="1" fill="#000"/>
<rect x="1645" y="511" width="2" height="1" fill="#000"/>
<rect x="1645" y="544" width="2" height="1" fill="#000"/>
<rect x="1645" y="577" width="2" height="1" fill="#000"/>
<rect x="1645" y="584" width="1" height="1" fill="#000"/>
<rect x="1645" y="636" width="2" height="1" fill="#000"/>
<rect x="1645" y="697" width="1" height="1" fill="#000"/>
<rect x="1645" y="702" width="1" height="1" fill="#000"/>
<rect x="1645" y="822" width="1" height="1" fill="#000"/>
<rect x="5" y="824" width="1" height="3" fill="#000"/>
<rect x="69" y="824" width="1" height="3" fill="#000"/>
<rect x="133" y="824" width="1" height="3" fill="#000"/>
<rect x="197" y="824" width="1" height="3" fill="#000"/>
<rect x="261" y="824" width="1" height="3" fill="#000"/>
<rect x="325" y="824" width="1" height="3" fill="#000"/>
<rect x="389" y="824" width="1" height="3" fill="#000"/>
<rect x="453" y="824" width="1" height="3" fill="#000"/>
<rect x="517" y="824" width="1" height="3" fill="#000"/>
<rect x="581" y="824" width="1" height="3" fill="#000"/>
<rect x="645" y="824" width="1" height="3" fill="#000"/>
<rect x="709" y="824" width="1" height="3" fill="#000"/>
<rect x="773" y="824" width="1" height="3" fill="#000"/>
<rect x="837" y="824" width="1" height="3" fill="#000"/>
<rect x="901" y="824" width="1" height="3" fill="#000"/>
<rect x="965" y="824" width="1" height="3" fill="#000"/>
<rect x="1029" y="824" width="1" height="3" fill="#000"/>
<rect x="1093" y="824" width="1" height="3" fill="#000"/>
<rect x="1157" y="824" width="1" height="3" fill="#000"/>
<rect x="1221" y="824" width="1" height="3" fill="#000"/>
<rect x="1285" y="824" width="1" height="3" fill="#000"/>
</g>
<g font-family='"Liberation Sans", sans-serif' font-size="9.33" stroke="#000" stroke-width="0.22" paint-order="stroke">
<text x="1649.8999999999999" y="52.6" fill="#000" font-size="9.33" letter-spacing="-0.2">1.19020</text>
<text x="1649.8999999999999" y="85.6" fill="#000" font-size="9.33" letter-spacing="-0.2">1.18705</text>
<text x="1649.8999999999999" y="118.6" fill="#000" font-size="9.33" letter-spacing="-0.2">1.18385</text>
<text x="1649.8999999999999" y="151.6" fill="#000" font-size="9.33" letter-spacing="-0.2">1.18065</text>
<text x="1649.8999999999999" y="184.6" fill="#000" font-size="9.33" letter-spacing="-0.2">1.17750</text>
<text x="1649.8999999999999" y="217.6" fill="#000" font-size="9.33" letter-spacing="-0.2">1.17430</text>
<text x="1649.8999999999999" y="250.6" fill="#000" font-size="9.33" letter-spacing="-0.2">1.17115</text>
<text x="1649.8999999999999" y="283.6" fill="#000" font-size="9.33" letter-spacing="-0.2">1.16795</text>
<text x="1649.8999999999999" y="316.6" fill="#000" font-size="9.33" letter-spacing="-0.2">1.16475</text>
<text x="1649.8999999999999" y="349.6" fill="#000" font-size="9.33" letter-spacing="-0.2">1.16160</text>
<text x="1649.8999999999999" y="382.6" fill="#000" font-size="9.33" letter-spacing="-0.2">1.15840</text>
<text x="1649.8999999999999" y="415.6" fill="#000" font-size="9.33" letter-spacing="-0.2">1.15520</text>
<text x="1649.8999999999999" y="448.6" fill="#000" font-size="9.33" letter-spacing="-0.2">1.15205</text>
<text x="1649.8999999999999" y="481.6" fill="#000" font-size="9.33" letter-spacing="-0.2">1.14885</text>
<text x="1649.8999999999999" y="514.6" fill="#000" font-size="9.33" letter-spacing="-0.2">1.14565</text>
<text x="1649.8999999999999" y="547.6" fill="#000" font-size="9.33" letter-spacing="-0.2">1.14250</text>
<text x="1649.8999999999999" y="580.6" fill="#000" font-size="9.33" letter-spacing="-0.2">1.13930</text>
<text x="1648.3999999999999" y="593.2" fill="#000" font-size="9.33" letter-spacing="-0.2">0.005166</text>
<text x="1648.3999999999999" y="639.6" fill="#000" font-size="9.33" letter-spacing="-0.2">0.00</text>
<text x="1648.0" y="695.2" fill="#000" font-size="9.33" letter-spacing="-0.05">-0.006064</text>
<text x="1648.3999999999999" y="711.2" fill="#000" font-size="9.33" letter-spacing="-0.2">100</text>
<text x="1647.1999999999998" y="729.6" fill="#000" font-size="9.33" letter-spacing="-0.2">80</text>
<text x="1647.1999999999998" y="765.6" fill="#000" font-size="9.33" letter-spacing="-0.2">50</text>
<text x="1648.3999999999999" y="807.6" fill="#000" font-size="9.33" letter-spacing="-0.2">15</text>
<text x="1648.3999999999999" y="820.2" fill="#000" font-size="9.33" letter-spacing="-0.2">0</text>
<text x="4.0" y="836.2" fill="#000" font-size="9.33" word-spacing="0.45">26 Aug 2022</text>
<text x="68.0" y="836.2" fill="#000" font-size="9.33" word-spacing="0.45">29 Aug 04:00</text>
<text x="132.0" y="836.2" fill="#000" font-size="9.33" word-spacing="0.45">29 Aug 20:00</text>
<text x="196.0" y="836.2" fill="#000" font-size="9.33" word-spacing="0.45">30 Aug 12:00</text>
<text x="260.0" y="836.2" fill="#000" font-size="9.33" word-spacing="0.45">31 Aug 04:00</text>
<text x="324.0" y="836.2" fill="#000" font-size="9.33" word-spacing="0.45">31 Aug 20:00</text>
<text x="388.0" y="836.2" fill="#000" font-size="9.33" letter-spacing="-0.05">1 Sep 12:00</text>
<text x="452.0" y="836.2" fill="#000" font-size="9.33" letter-spacing="-0.05">2 Sep 04:00</text>
<text x="516.0" y="836.2" fill="#000" font-size="9.33" letter-spacing="-0.05">4 Sep 23:00</text>
<text x="580.0" y="836.2" fill="#000" font-size="9.33" letter-spacing="-0.05">5 Sep 12:00</text>
<text x="644.0" y="836.2" fill="#000" font-size="9.33" letter-spacing="-0.05">6 Sep 04:00</text>
<text x="708.0" y="836.2" fill="#000" font-size="9.33" letter-spacing="-0.05">6 Sep 20:00</text>
<text x="772.0" y="836.2" fill="#000" font-size="9.33" letter-spacing="-0.05">7 Sep 12:00</text>
<text x="836.0" y="836.2" fill="#000" font-size="9.33" letter-spacing="-0.05">8 Sep 04:00</text>
<text x="900.0" y="836.2" fill="#000" font-size="9.33" letter-spacing="-0.05">8 Sep 20:00</text>
<text x="964.0" y="836.2" fill="#000" font-size="9.33" letter-spacing="-0.05">9 Sep 12:00</text>
<text x="1028.0" y="836.2" fill="#000" font-size="9.33" letter-spacing="-0.05">12 Sep 04:00</text>
<text x="1092.0" y="836.2" fill="#000" font-size="9.33" letter-spacing="-0.05">12 Sep 20:00</text>
<text x="1156.0" y="836.2" fill="#000" font-size="9.33" letter-spacing="-0.05">13 Sep 12:00</text>
<text x="1220.0" y="836.2" fill="#000" font-size="9.33" letter-spacing="-0.05">14 Sep 04:00</text>
<text x="1284.0" y="836.2" fill="#000" font-size="9.33" letter-spacing="-0.05">14 Sep 20:00</text>
<rect x="1646" y="333" width="41" height="11" fill="#ff0000" shape-rendering="crispEdges"/>
<text x="1649.8999999999999" y="342.1" fill="#fff" font-size="9.33" stroke="#fff" letter-spacing="-0.2">1.16229</text>
<rect x="1646" y="373" width="41" height="11" fill="#ff0000" shape-rendering="crispEdges"/>
<text x="1649.8999999999999" y="382.1" fill="#fff" font-size="9.33" stroke="#fff" letter-spacing="-0.2">1.15844</text>
<rect x="1646" y="413" width="41" height="11" fill="#ffa500" shape-rendering="crispEdges"/>
<text x="1649.8999999999999" y="422.1" fill="#fff" font-size="9.33" stroke="#fff" letter-spacing="-0.2">1.15459</text>
<rect x="1646" y="426" width="41" height="11" fill="#000000" shape-rendering="crispEdges"/>
<text x="1649.8999999999999" y="435.1" fill="#fff" font-size="9.33" stroke="#fff" letter-spacing="-0.2">1.15341</text>
<rect x="1646" y="474" width="41" height="11" fill="#0000ff" shape-rendering="crispEdges"/>
<text x="1649.8999999999999" y="483.1" fill="#fff" font-size="9.33" stroke="#fff" letter-spacing="-0.2">1.14872</text>
<rect x="1646" y="509" width="41" height="11" fill="#0000ff" shape-rendering="crispEdges"/>
<text x="1649.8999999999999" y="518.1" fill="#fff" font-size="9.33" stroke="#fff" letter-spacing="-0.2">1.14535</text>
<polygon points="8,31 15,31 11.5,35" fill="#000"/>
<text x="20" y="36.2" fill="#000" font-size="9.33" xml:space="preserve">GBPUSD-,H4&#160; 1.15394 1.15420 1.15341 1.15341</text>
<text x="9" y="595.2" fill="#000" font-size="9.33">MACD(12,26,9) -0.001320 0.000033</text>
<text x="9" y="713.2" fill="#000" font-size="9.33">RSI(14) 44.4651</text>
</g></svg>
</body></html>
